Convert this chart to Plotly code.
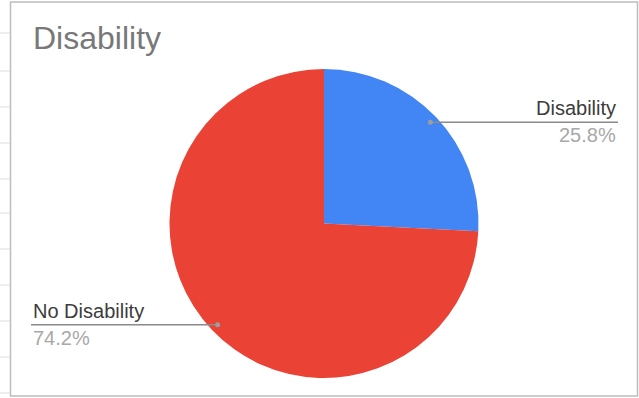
import math
import plotly.graph_objects as go

W, H = 639, 398

labels = ["Disability", "No Disability"]
values = [25.8, 74.2]
colors = ["#4285F4", "#EA4335"]
title_text = "Disability"

# pie geometry in pixels
cx, cy, R = 324, 223.5, 154.5

def px(x):
    return x / W

def py(y):
    return 1 - y / H

FONT = "Liberation Sans, Arial, sans-serif"

fig = go.Figure(go.Pie(
    labels=labels,
    values=values,
    marker=dict(colors=colors, line=dict(color="white", width=0)),
    sort=False,
    direction="clockwise",
    rotation=0,
    textinfo="none",
    hoverinfo="label+percent",
    showlegend=False,
    domain=dict(x=[px(cx - R), px(cx + R)], y=[py(cy + R), py(cy - R)]),
))

shapes = []
annotations = []

# frame + spreadsheet grid hints
shapes.append(dict(type="rect", xref="paper", yref="paper",
                   x0=px(10.5), x1=px(637.5), y0=py(396), y1=py(2),
                   line=dict(color="#bdbdbd", width=1.5)))
for gy in [33, 71, 107, 143, 179, 213, 249, 285, 321, 357, 393]:
    shapes.append(dict(type="line", xref="paper", yref="paper",
                       x0=0, x1=px(10), y0=py(gy), y1=py(gy),
                       line=dict(color="#dcdcdc", width=1)))

# leader lines computed from the slice mid-angles
total = sum(values)
cum = 0
label_cfg = [
    dict(end_x=618, anchor="right"),
    dict(end_x=31, anchor="left"),
]
for lab, v, cfg in zip(labels, values, label_cfg):
    mid = (cum + v / 2) / total * 2 * math.pi
    cum += v
    r = 0.95 * R
    dx = cx + r * math.sin(mid)
    dy = cy - r * math.cos(mid)
    shapes.append(dict(type="line", xref="paper", yref="paper",
                       x0=px(dx), x1=px(cfg["end_x"]), y0=py(dy), y1=py(dy),
                       line=dict(color="#8a8a8a", width=1.5)))
    shapes.append(dict(type="circle", xref="paper", yref="paper",
                       x0=px(dx - 2.5), x1=px(dx + 2.5), y0=py(dy + 2.5), y1=py(dy - 2.5),
                       fillcolor="#9e9e9e", line=dict(width=0)))
    annotations.append(dict(xref="paper", yref="paper", x=px(cfg["end_x"]), y=py(dy - 1),
                            text=lab, showarrow=False, xanchor=cfg["anchor"], yanchor="bottom",
                            font=dict(family=FONT, size=20, color="#3c3c3c")))
    annotations.append(dict(xref="paper", yref="paper", x=px(cfg["end_x"]), y=py(dy + 0),
                            text=f"{v / total * 100:.1f}%", showarrow=False,
                            xanchor=cfg["anchor"], yanchor="top",
                            font=dict(family=FONT, size=20, color="#a8a8a8")))

annotations.append(dict(xref="paper", yref="paper", x=px(31), y=py(38),
                        text=title_text, showarrow=False, xanchor="left", yanchor="middle",
                        font=dict(family=FONT, size=32, color="#787878")))

fig.update_layout(
    width=W, height=H,
    margin=dict(l=0, r=0, t=0, b=0),
    paper_bgcolor="white",
    plot_bgcolor="white",
    shapes=shapes,
    annotations=annotations,
)

fig.write_html("out.html")
